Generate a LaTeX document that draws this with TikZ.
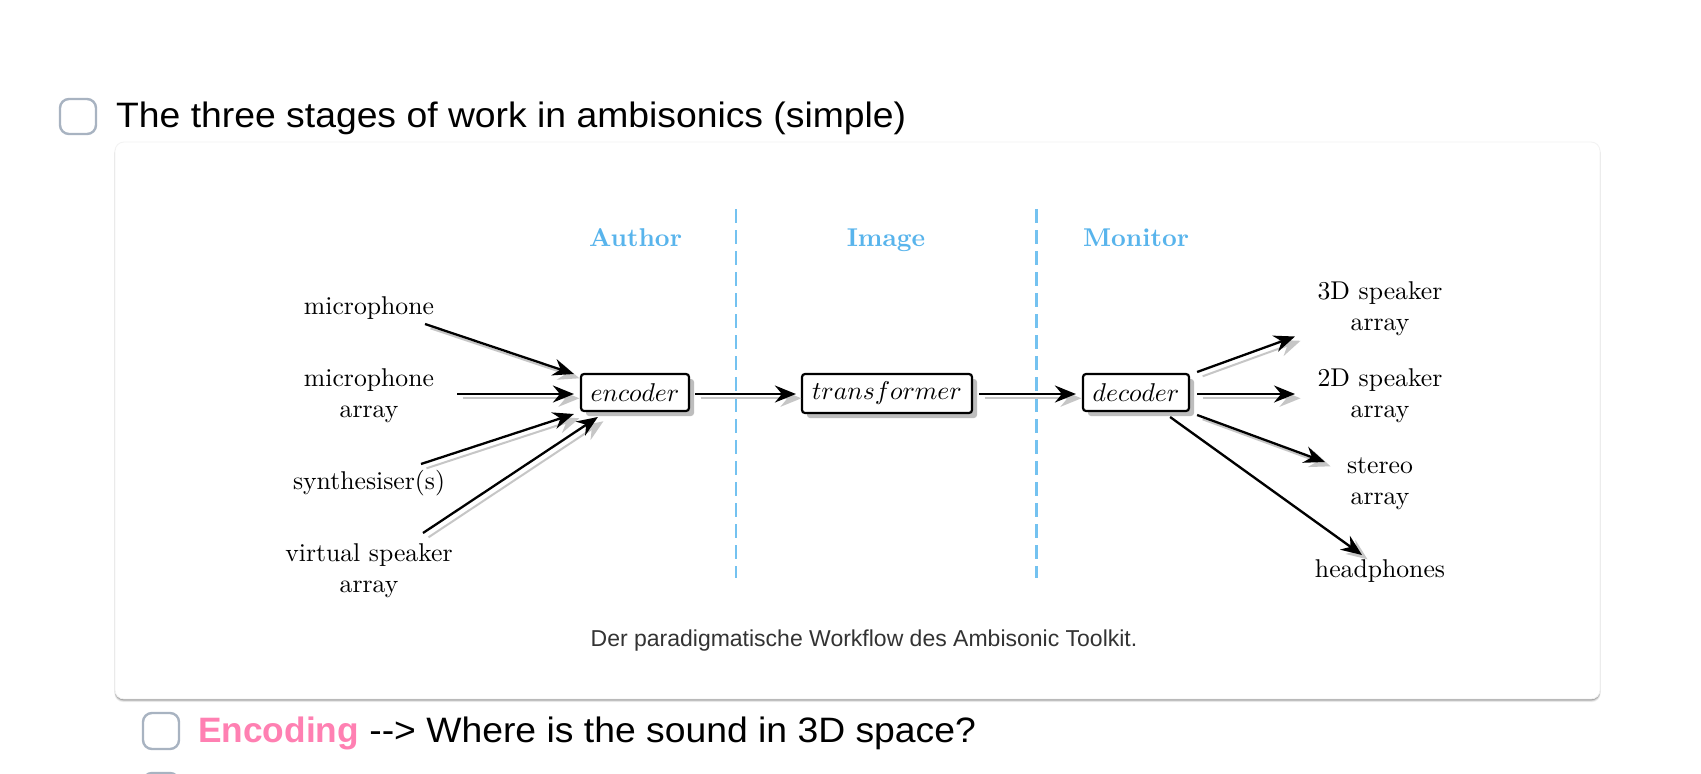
\documentclass[tikz,border=0pt]{standalone}
\usepackage{graphicx}
\usepackage{fontspec}
\newfontfamily\uifont[FakeStretch=1.057]{Liberation Sans}
\newfontfamily\uiboldfont{Liberation Sans Bold}
\newfontfamily\capfont{Liberation Sans}
\usetikzlibrary{arrows.meta,calc}
\definecolor{hdr}{HTML}{58B4EC}
\definecolor{dashc}{HTML}{74C2F0}
\definecolor{chk}{HTML}{A8B3C1}
\definecolor{pinkish}{HTML}{FF80B2}
\definecolor{shade}{HTML}{BDBDBD}
\definecolor{arrshade}{HTML}{C6C6C6}
\tikzset{
  lab/.style={scale=2.57,transform shape,font=\fontsize{10}{12.2}\selectfont\rmfamily,align=center,anchor=center,inner sep=0pt},
  hdrlab/.style={scale=2.57,transform shape,font=\fontsize{10}{12}\selectfont\rmfamily\bfseries,text=hdr,anchor=base,inner sep=0pt},
  ui/.style={font=\fontsize{35.3}{40}\selectfont\uifont,anchor=base west,inner sep=0pt,text=black},
  chkbox/.style={draw=chk,line width=2.4pt,rounded corners=9pt},
  stage/.style={draw=black,line width=2.2pt,fill=white,rounded corners=3pt,minimum height=37pt,inner sep=0pt,anchor=center},
  stageshadow/.style={fill=shade,rounded corners=3pt},
  divider/.style={draw=dashc,line width=2.2pt,dash pattern=on 14pt off 7pt},
  arrtip/.style={-{Stealth[length=21pt,width=17pt,inset=7pt]}},
  arr/.style={draw=black,line width=2.3pt,arrtip},
  arrsh/.style={draw=arrshade,line width=2pt,arrtip},
}
% \link{from anchor}{offset}{to anchor}{offset}
\newcommand{\link}[4]{%
  \draw[arrsh] ($(#1)+(#2)+(5.5,4.3)$) -- ($(#3)+(#4)+(5.5,4.3)$);
  \draw[arr] ($(#1)+(#2)$) -- ($(#3)+(#4)$);}
\newcommand{\mathlab}[1]{\scalebox{2.57}{$#1$}}
\begin{document}
\begin{tikzpicture}[x=1pt,y=-1pt]
\useasboundingbox (0,0) rectangle (1701,774);
\fill[white] (0,0) rectangle (1701,774);
% card
\foreach \o/\a in {4/.06,3/.1,2/.16,1/.22}{
  \fill[black,opacity=\a,rounded corners=9pt] (115.5-\o*.3,144) rectangle (1599.5+\o*.3,699+\o*.8);}
\node[draw=black!5,line width=.8pt,fill=white,rounded corners=9pt,minimum width=1485pt,minimum height=557pt,inner sep=0pt] (card) at (857.5,420.5) {};
% checklist
\draw[chkbox] (60,99) rectangle (96,134);
\node[ui] (title) at (116,127) {The three stages of work in ambisonics (simple)};
\draw[chkbox] (143,713) rectangle (179,749);
\node[ui] (enc1) at (198,742) {\textcolor{pinkish}{\uiboldfont Encoding} --> Where is the sound in 3D space?};
\draw[chkbox] (143,773) rectangle (179,809);
% dividers
\coordinate (d1a) at (735.6,209); \coordinate (d1b) at (735.6,578);
\coordinate (d2a) at (1036.4,209); \coordinate (d2b) at (1036.4,578);
\draw[divider] (d1a) -- (d1b);
\draw[divider] (d2a) -- (d2b);
% headers
\node[hdrlab] (hA) at (635.5,246) {Author};
\node[hdrlab] (hI) at (886,246) {Image};
\node[hdrlab] (hM) at (1136,246) {Monitor};
% stages
\fill[stageshadow] (586,379) rectangle (694,416);
\fill[stageshadow] (807,379) rectangle (977,418);
\fill[stageshadow] (1088,379) rectangle (1194,416);
\node[stage,minimum width=108pt] (enc) at (635,392.5) {\mathlab{encoder}};
\node[stage,minimum width=170pt,minimum height=39pt] (tra) at (887,393.5) {\mathlab{transformer}};
\node[stage,minimum width=106pt] (dec) at (1136,392.5) {\mathlab{decoder}};
% sources
\node[lab] (mic) at (369,308) {microphone};
\node[lab] (arr) at (369,396) {microphone\\array};
\node[lab] (syn) at (369,483.5) {synthesiser(s)};
\node[lab] (vir) at (369,571) {virtual speaker\\array};
% sinks
\node[lab] (s3) at (1380,308.5) {3D speaker\\array};
\node[lab] (s2) at (1380,396) {2D speaker\\array};
\node[lab] (st) at (1380,484) {stereo\\array};
\node[lab] (hp) at (1380,571) {headphones};
% connectors
\link{mic.center}{56,16}{enc.west}{-6,-18.5}
\link{arr.center}{88,-2}{enc.west}{-6,1.5}
\link{syn.center}{52,-19.5}{enc.west}{-6,21.5}
\link{vir.center}{54,-38}{enc.west}{18,24.5}
\link{enc.east}{5,1.5}{tra.west}{-5,.5}
\link{tra.east}{6,.5}{dec.west}{-6,1.5}
\link{dec.east}{7,-20.5}{s3.center}{-85,28}
\link{dec.east}{7,1.5}{s2.center}{-85,-2}
\link{dec.east}{7,22.5}{st.center}{-55,-22}
\link{dec.east}{-20,24.5}{hp.center}{-18,-16}
% caption
\node[font=\fontsize{23}{26}\selectfont\capfont,text=black!80,anchor=base,inner sep=0pt] (cap) at (864,646) {Der paradigmatische Workflow des Ambisonic Toolkit.};
\end{tikzpicture}
\end{document}
